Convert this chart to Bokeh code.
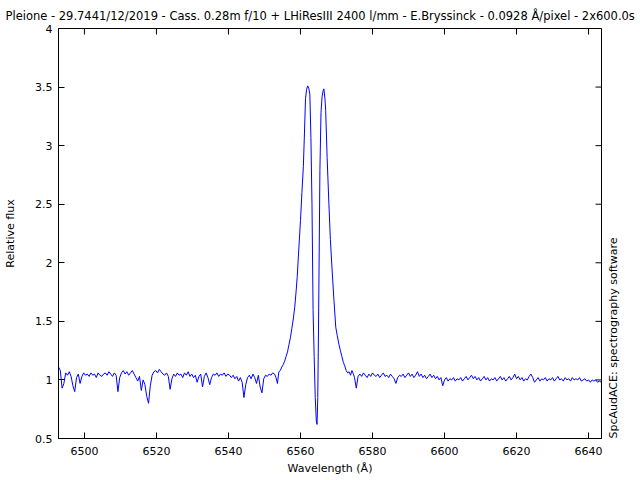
import numpy as np
from bokeh.plotting import figure
from bokeh.models import (LinearAxis, FixedTicker, CustomJSTickFormatter, Range1d)
from bokeh.embed import file_html
from bokeh.resources import INLINE

TITLE = "Pleione - 29.7441/12/2019 - Cass. 0.28m f/10 + LHiResIII 2400 l/mm - E.Bryssinck - 0.0928 \u00c5/pixel - 2x600.0s"
X_LABEL = "Wavelength (\u00c5)"
Y_LABEL = "Relative flux"
SIDE_LABEL = "SpcAudACE: spectrography software"

x_ticks = [6500, 6520, 6540, 6560, 6580, 6600, 6620, 6640]
y_ticks = [0.5, 1, 1.5, 2, 2.5, 3, 3.5, 4]

# blue continuum, 0.5 A sampling starting 6492.8 A
left_start = 6492.8
left_flux = [
    1.11, 1.08, 0.93, 0.97, 1.06, 1.04, 1.07, 1.03, 0.95, 0.90,
    1.02, 1.05, 0.97, 1.03, 1.06, 1.04, 1.05, 1.03, 1.06, 1.04,
    1.05, 1.02, 1.06, 1.04, 1.03, 1.05, 1.06, 1.04, 1.07, 1.05,
    1.03, 1.06, 1.04, 0.90, 1.02, 1.06, 1.08, 1.05, 1.07, 1.04,
    1.06, 1.08, 1.05, 1.02, 0.99, 1.03, 0.91, 1.00, 0.96, 0.86,
    0.80, 0.95, 1.04, 1.07, 1.08, 1.06, 1.09, 1.07, 1.05, 1.04,
    1.06, 1.03, 0.92, 1.01, 1.05, 1.03, 1.06, 1.04, 1.05, 1.02,
    1.06, 1.04, 1.07, 1.03, 1.05, 1.02, 1.04, 0.98, 1.03, 1.05,
    0.94, 1.03, 1.06, 1.02, 0.96, 1.02, 1.05, 1.04, 1.06, 1.03,
    1.05, 1.04, 1.06, 1.03, 1.05, 1.04, 1.02, 1.04, 1.01, 1.03,
    0.99, 1.02, 0.98, 0.85, 0.96, 1.02, 1.04, 1.01, 1.05, 1.02,
    0.97, 1.04, 0.94, 0.89, 1.01, 1.04, 1.03, 1.05, 1.04, 1.06,
]

# H-alpha double-peaked emission
em_wave = [
    6552.8, 6553.2, 6553.6, 6554.0, 6554.4, 6554.8, 6555.2, 6555.6, 6556.0, 6556.4,
    6556.8, 6557.2, 6557.6, 6558.0, 6558.4, 6558.8, 6559.1, 6559.5, 6560.0, 6560.4,
    6560.8, 6561.1, 6561.4, 6561.7, 6562.0, 6562.3, 6562.6, 6562.9, 6563.2, 6563.5,
    6563.8, 6564.1, 6564.4, 6564.6, 6564.8, 6565.0, 6565.2, 6565.4, 6565.7, 6566.0,
    6566.3, 6566.5, 6566.8, 6567.0, 6567.4, 6567.9, 6568.3, 6568.8, 6569.3, 6569.8,
    6570.2, 6570.7, 6571.1, 6571.5, 6571.9, 6572.3, 6572.7, 6573.1, 6573.5, 6573.9,
    6574.3, 6574.7,
]
em_flux = [
    1.05, 1.02, 0.97, 1.07, 1.08, 1.11, 1.13, 1.16, 1.20, 1.24,
    1.30, 1.36, 1.44, 1.52, 1.62, 1.76, 1.88, 2.10, 2.36, 2.60,
    2.82, 3.10, 3.40, 3.48, 3.51, 3.49, 3.44, 3.07, 2.50, 1.60,
    1.20, 0.85, 0.65, 0.62, 0.85, 1.40, 2.10, 2.79, 3.28, 3.42,
    3.47, 3.485, 3.40, 3.30, 2.90, 2.50, 2.20, 1.93, 1.68, 1.45,
    1.38, 1.30, 1.25, 1.20, 1.15, 1.12, 1.08, 1.06, 1.07, 1.04,
    1.08, 1.05,
]

# red continuum, 0.5 A sampling starting 6575.0 A
right_start = 6575.0
right_flux = [
    1.02, 0.93, 1.03, 1.05, 1.03, 1.06, 1.04, 1.02, 1.05, 1.03,
    1.06, 1.04, 1.03, 1.05, 1.02, 1.04, 1.06, 1.03, 1.04, 1.02,
    1.05, 1.03, 1.01, 0.97, 1.02, 1.04, 1.03, 1.05, 1.02, 1.04,
    1.06, 1.03, 1.05, 1.02, 1.04, 1.07, 1.03, 1.05, 1.02, 1.04,
    1.01, 1.03, 1.05, 1.02, 1.04, 1.01, 1.03, 1.00, 1.02, 0.95,
    1.00, 1.02, 0.99, 1.01, 1.00, 1.02, 0.99, 1.01, 1.00, 1.02,
    0.99, 1.01, 1.03, 1.00, 1.02, 1.04, 1.01, 1.03, 1.00, 1.02,
    0.99, 1.01, 1.03, 1.00, 1.02, 0.99, 1.01, 1.00, 1.02, 0.99,
    1.01, 1.03, 1.00, 1.02, 0.99, 1.01, 1.03, 1.00, 1.02, 1.05,
    1.01, 1.03, 1.00, 1.02, 0.99, 1.01, 1.00, 1.03, 1.05, 1.02,
    0.98, 1.00, 1.02, 0.99, 1.01, 1.00, 1.02, 0.99, 1.01, 1.00,
    1.02, 0.99, 1.01, 1.03, 1.00, 1.01, 0.99, 1.02, 1.00, 1.01,
    0.99, 1.02, 1.00, 1.01, 1.00, 1.02, 0.99, 1.00, 1.01, 0.99,
    1.00, 0.98, 1.00, 0.99, 1.00, 0.98, 0.99, 0.98,
]

x_range = (6492.8, 6643.6)
y_range = (0.5, 4.0)

left_wave = left_start + 0.5 * np.arange(len(left_flux))
right_wave = right_start + 0.5 * np.arange(len(right_flux))
wave = np.concatenate([left_wave, np.array(em_wave), right_wave])
flux = np.concatenate([np.array(left_flux), np.array(em_flux), np.array(right_flux)])

FONT = "DejaVu Sans"
FS = "11px"

p = figure(width=640, height=480, output_backend="svg", toolbar_location=None,
           x_range=Range1d(*x_range), y_range=Range1d(*y_range),
           min_border_left=58, min_border_right=39, min_border_bottom=42, min_border_top=28)
p.background_fill_color = "white"
p.border_fill_color = "white"
p.outline_line_color = "black"
p.outline_line_alpha = 1.0
p.outline_line_width = 1
p.grid.visible = False

p.title.text = TITLE
p.title.align = "left"
p.title.text_font = FONT
p.title.text_font_size = "11.5px"
p.title.text_font_style = "normal"
p.title.text_color = "black"
p.title.standoff = 12
p.title.offset = -53

p.line(wave, flux, line_color="#0000ff", line_width=1)

# mirror ticks on top and right borders (inward half shows inside the frame)
p.scatter(x=x_ticks, y=[y_range[1]] * len(x_ticks), marker="dash", angle=np.pi / 2,
          size=12, line_color="black", line_width=1)
p.scatter(x=[x_range[1]] * len(y_ticks), y=y_ticks, marker="dash", angle=0,
          size=12, line_color="black", line_width=1)

fmt = CustomJSTickFormatter(code="return String(tick);")

def style_axis(ax, ticks):
    ax.ticker = FixedTicker(ticks=ticks)
    ax.formatter = fmt
    ax.major_tick_in = 6
    ax.major_tick_out = 0
    ax.minor_tick_line_color = None
    ax.major_tick_line_color = "black"
    ax.axis_line_color = "black"
    ax.major_label_text_font = FONT
    ax.major_label_text_font_size = FS
    ax.major_label_text_color = "black"
    ax.axis_label_text_font = FONT
    ax.axis_label_text_font_size = FS
    ax.axis_label_text_font_style = "normal"
    ax.axis_label_text_color = "black"

style_axis(p.xaxis[0], x_ticks)
style_axis(p.yaxis[0], y_ticks)
p.xaxis[0].axis_label = X_LABEL
p.yaxis[0].axis_label = Y_LABEL
p.xaxis[0].major_label_standoff = 8
p.xaxis[0].axis_label_standoff = 4
p.yaxis[0].major_label_standoff = 6
p.yaxis[0].axis_label_standoff = 15

# right-hand credit text as the label of an empty right axis
right_ax = LinearAxis(ticker=FixedTicker(ticks=[]), axis_line_color=None,
                      major_tick_line_color=None, minor_tick_line_color=None)
right_ax.axis_label_text_font = FONT
right_ax.axis_label_text_font_size = FS
right_ax.axis_label_text_font_style = "normal"
right_ax.axis_label_text_color = "black"
right_ax.axis_label_standoff = 12
right_ax.axis_label_orientation = np.pi / 2
aligned = False
if "axis_label_align" in right_ax.properties():
    try:
        right_ax.axis_label_align = "start"
        aligned = True
    except Exception:
        aligned = False
if aligned:
    right_ax.axis_label = SIDE_LABEL
else:
    right_ax.axis_label = SIDE_LABEL + "\u00a0" * 58
p.add_layout(right_ax, "right")

open("out.html", "w").write(file_html(p, INLINE))
